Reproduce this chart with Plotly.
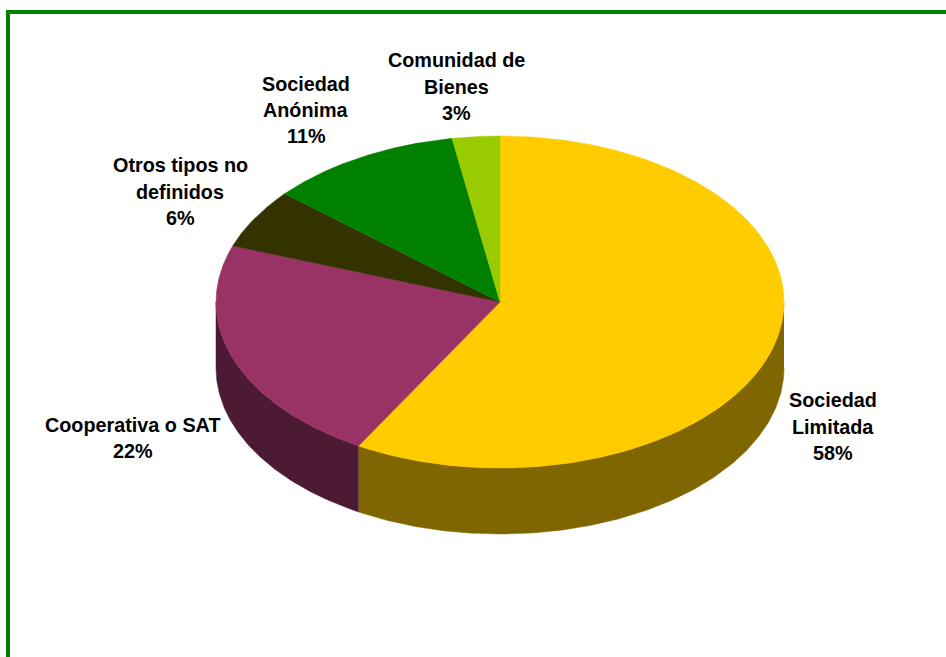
import numpy as np
import plotly.graph_objects as go

# Data, clockwise from 12 o'clock
names = ["Sociedad Limitada", "Cooperativa o SAT", "Otros tipos no definidos",
         "Sociedad Anónima", "Comunidad de Bienes"]
shares = [58.3, 22.2, 5.8, 11.0, 2.7]
top_colors = ["#FFCC00", "#993366", "#333300", "#008000", "#99CC00"]
wall_colors = ["#806600", "#4D1A33", "#1A1A00", "#004000", "#4D6600"]

# Pie projection on the pixel-sized axes
CX, CY, RX, RY, DEPTH = 500, 302, 284, 166, 66


def ell(theta, dy=0.0):
    return CX + RX * np.sin(theta), CY - RY * np.cos(theta) + dy


fig = go.Figure()
total = sum(shares)
edges = np.radians(np.concatenate([[0], np.cumsum(shares)]) * 360.0 / total)

# Side walls: only the front half of the rim (90..270 degrees) is visible
for i in range(len(shares)):
    a0 = max(edges[i], np.pi / 2)
    a1 = min(edges[i + 1], 3 * np.pi / 2)
    if a1 <= a0:
        continue
    t = np.linspace(a0, a1, 160)
    x_top, y_top = ell(t)
    x_bot, y_bot = ell(t[::-1], DEPTH)
    fig.add_trace(go.Scatter(
        x=np.concatenate([x_top, x_bot]), y=np.concatenate([y_top, y_bot]),
        mode="lines", fill="toself", fillcolor=wall_colors[i],
        line=dict(width=0.5, color=wall_colors[i]), hoverinfo="skip", showlegend=False))

# Top faces
for i in range(len(shares)):
    t = np.linspace(edges[i], edges[i + 1], 240)
    xs, ys = ell(t)
    fig.add_trace(go.Scatter(
        x=np.concatenate([[CX], xs, [CX]]), y=np.concatenate([[CY], ys, [CY]]),
        mode="lines", fill="toself", fillcolor=top_colors[i],
        line=dict(width=0.5, color=top_colors[i]), name=names[i],
        hoverinfo="name", showlegend=False))


def pct(i):
    return f"{round(shares[i])}%"


# Labels, one annotation per line to keep the reference's line spacing
labels = [
    (["Sociedad", "Limitada", pct(0)], 833, [400, 427, 453]),
    (["Cooperativa o SAT", pct(1)], 133, [425, 451]),
    (["Otros tipos no", "definidos", pct(2)], 180, [165, 192, 218]),
    (["Sociedad", "Anónima", pct(3)], 306, [84, 110, 136]),
    (["Comunidad de", "Bienes", pct(4)], 456, [60, 87, 113]),
]
annotations = []
for lines, xc, yc in labels:
    for txt, y in zip(lines, yc):
        annotations.append(dict(
            x=xc, y=y, xref="x", yref="y", text=f"<b>{txt}</b>", showarrow=False,
            xanchor="center", yanchor="middle",
            font=dict(family="Liberation Sans, Arial, sans-serif", size=19.8, color="#000000")))

fig.update_layout(
    width=946, height=657, margin=dict(l=0, r=0, t=0, b=0),
    paper_bgcolor="white", plot_bgcolor="white", showlegend=False,
    xaxis=dict(range=[0, 946], visible=False, fixedrange=True),
    yaxis=dict(range=[657, 0], visible=False, fixedrange=True),
    annotations=annotations,
    shapes=[
        dict(type="line", xref="x", yref="y", x0=8, x1=8, y0=10, y1=657,
             line=dict(color="#008000", width=4)),
        dict(type="line", xref="x", yref="y", x0=6, x1=946, y0=12, y1=12,
             line=dict(color="#008000", width=4)),
    ],
)
fig.write_html("out.html", config=dict(displayModeBar=False),
               post_script="document.body.style.margin='0';")
